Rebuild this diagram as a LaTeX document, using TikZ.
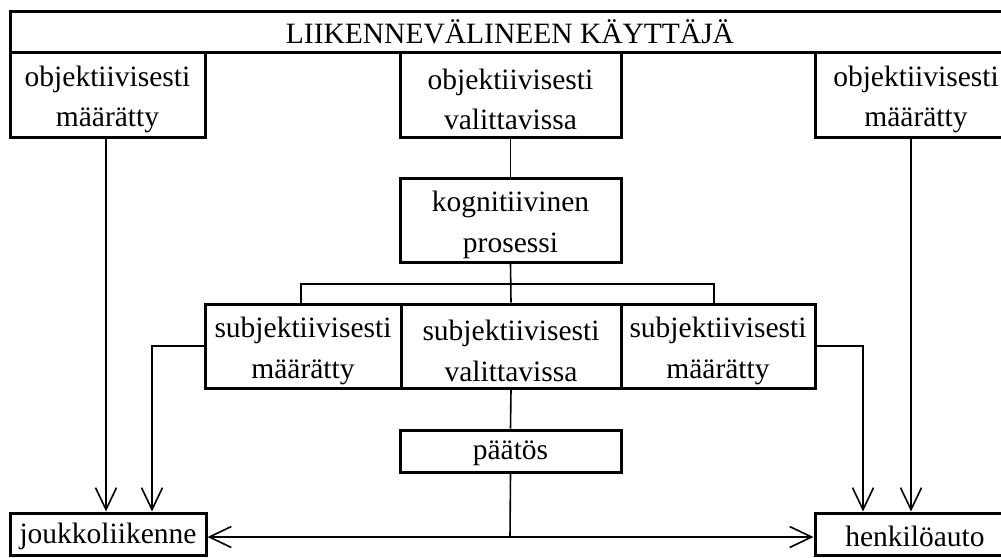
\documentclass[tikz,border=0pt]{standalone}
\usepackage{fontspec}
\setmainfont{Liberation Serif}
\usetikzlibrary{arrows.meta}
\begin{document}
\begin{tikzpicture}[x=1pt,y=-1pt,
  box/.style={draw,line width=3pt,inner sep=0pt},
  txt/.style={inner sep=0pt,align=center,font=\fontsize{29.5}{40.5}\selectfont},
  conn/.style={line width=1.6pt},
  arr/.style={conn,-{Straight Barb[length=22pt,width=21pt,line width=1.6pt]}},
  barr/.style={conn,{Straight Barb[length=22pt,width=21pt,line width=1.6pt]}-{Straight Barb[length=22pt,width=21pt,line width=1.6pt]}}]
\useasboundingbox (0,0) rectangle (1001,557);
% boxes: name, x1, y1, x2, y2, text shift, text
\newcommand{\mybox}[7]{%
  \node[box,minimum width=#4-#2,minimum height=#5-#3] (#1) at ({(#2+#4)/2},{(#3+#5)/2}) {};
  \node[txt] (#1t) at ([yshift=#6]#1.center) {#7};}
\mybox{top}{10}{11}{1010}{52}{0pt}{LIIKENNEVÄLINEEN KÄYTTÄJÄ}
\mybox{obL}{10}{52}{205}{137}{-5pt}{objektiivisesti\\määrätty}
\mybox{obM}{400}{52}{621}{137}{-5pt}{objektiivisesti\\valittavissa}
\mybox{obR}{815}{52}{1017}{137}{-5pt}{objektiivisesti\\määrätty}
\mybox{kog}{400}{178}{621}{262}{-5pt}{kognitiivinen\\prosessi}
\mybox{sL}{205}{304}{401}{388}{-5pt}{subjektiivisesti\\määrätty}
\mybox{sM}{401}{304}{621}{388}{-5pt}{subjektiivisesti\\valittavissa}
\mybox{sR}{621}{304}{815}{388}{-5pt}{subjektiivisesti\\määrätty}
\mybox{paa}{400}{430}{621}{472}{-2pt}{päätös}
\mybox{jou}{10}{513}{206}{555}{-2pt}{joukkoliikenne}
\mybox{hen}{815}{513}{1015}{555}{-2pt}{henkilöauto}
% connectors
\coordinate (hl) at (301,284);
\coordinate (hr) at (714,284);
\coordinate (hm) at (510,537);
\draw[conn] (obM.south) -- (kog.north);
\draw[conn] (kog.south) -- (sM.north);
\draw[conn] (sL.north -| hl) -- (hl) -- (hr) -- (sR.north -| hr);
\draw[conn] (sM.south) -- (paa.north);
\draw[conn] (paa.south) -- (hm);
\draw[barr] (jou.east |- hm) -- (hen.west |- hm);
\draw[arr] (obL.south -| 106,0) -- (jou.north -| 106,0);
\draw[arr] (obR.south -| 911,0) -- (hen.north -| 911,0);
\draw[arr] (sL.west) -- (152,0 |- sL.west) -- (jou.north -| 152,0);
\draw[arr] (sR.east) -- (863,0 |- sR.east) -- (hen.north -| 863,0);
\end{tikzpicture}
\end{document}
